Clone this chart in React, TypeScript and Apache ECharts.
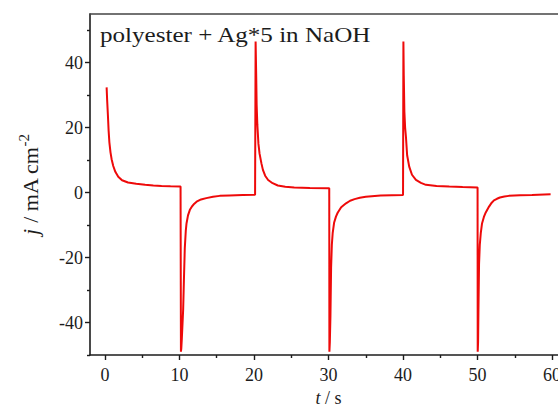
import { useEffect, useRef } from 'react';
import * as echarts from 'echarts';

// Chronoamperometric pulses: [t (s), j (mA cm-2)]
const anodic1: [number, number][] = [
  [0.23, 32.4], [0.3, 28.5], [0.4, 24], [0.5, 19], [0.6, 15.5], [0.75, 12.4], [0.9, 10.3],
  [1.12, 8.2], [1.4, 6.4], [1.79, 4.9], [2.3, 3.8], [3.1, 3.1], [4.2, 2.7], [5.4, 2.4],
  [6.5, 2.2], [7.6, 2.06], [8.8, 1.95], [10.15, 1.85],
];
const cathodic1: [number, number][] = [
  [10.2, -49], [10.25, -48], [10.32, -45], [10.42, -40], [10.5, -36], [10.6, -27],
  [10.72, -17], [10.85, -11.8], [10.95, -9.5], [11.15, -7.0], [11.4, -5.3], [11.7, -4.2],
  [12.0, -3.4], [12.3, -2.8], [12.9, -2.1], [13.6, -1.7], [14.5, -1.3], [15.4, -1.0],
  [16.7, -0.85], [18.5, -0.75], [20.15, -0.65],
];
const anodic2: [number, number][] = [
  [20.22, 46.5], [20.3, 36], [20.36, 27], [20.45, 21], [20.6, 15], [20.75, 12], [21.0, 9],
  [21.2, 7.0], [21.5, 5.2], [21.9, 3.9], [22.5, 2.9], [23.2, 2.2], [24.2, 1.8], [25.4, 1.55],
  [27.5, 1.45], [30.1, 1.35],
];
const cathodic2: [number, number][] = [
  [30.12, -49], [30.18, -46], [30.26, -38], [30.35, -23], [30.45, -16], [30.56, -12.5],
  [30.75, -9.3], [31.0, -7.4], [31.23, -6.2], [31.7, -4.5], [32.35, -3.3], [32.9, -2.5],
  [33.5, -2.0], [34.2, -1.6], [35, -1.3], [37, -0.9], [40.0, -0.7],
];
const anodic3: [number, number][] = [
  [40.05, 46.5], [40.1, 36], [40.18, 25], [40.28, 20], [40.39, 17.2], [40.55, 11.5],
  [40.83, 8], [41.2, 5.5], [41.73, 3.9], [42.4, 3.0], [43.07, 2.4], [44.5, 2.05],
  [46.2, 1.85], [48, 1.7], [50.0, 1.55],
];
const cathodic3: [number, number][] = [
  [50.02, -49], [50.07, -46], [50.12, -36], [50.2, -22], [50.3, -16], [50.43, -12.5],
  [50.6, -9.5], [50.85, -7.5], [51.1, -6.1], [51.54, -4.3], [51.9, -3.1], [52.2, -2.4],
  [52.6, -1.9], [53.0, -1.5], [53.6, -1.2], [54.2, -1.0], [55.7, -0.8], [57.3, -0.7],
  [59.8, -0.5],
];

const xMajorTicks = [0, 10, 20, 30, 40, 50, 60];
const xMinorTicks = [5, 15, 25, 35, 45, 55];
const yMajorTicks = [-40, -20, 0, 20, 40];
const yMinorTicks = [-50, -30, -10, 10, 30, 50];
const titleText = 'polyester + Ag*5 in NaOH';

const FONT = 'Liberation Serif';
const INK = '#1c1c1c';

export default function App() {
  const ref = useRef<HTMLDivElement>(null);
  useEffect(() => {
    if (!ref.current) return;
    const chart = echarts.init(ref.current, null, { renderer: 'svg' });
    const data = [...anodic1, ...cathodic1, ...anodic2, ...cathodic2, ...anodic3, ...cathodic3];
    const axisLine = { show: true, onZero: false, lineStyle: { color: INK, width: 1.6 } };
    chart.setOption({
      animation: false,
      backgroundColor: '#ffffff',
      grid: { left: 90, top: 14, bottom: 52, right: 13, containLabel: false, outerBoundsMode: 'none' },
      graphic: [
        {
          type: 'text',
          x: 100,
          y: 35,
          scaleX: 1.14,
          style: {
            text: titleText,
            fontFamily: FONT,
            fontSize: 22,
            fill: INK,
            align: 'left',
            verticalAlign: 'middle',
          },
        },
      ],
      xAxis: [
        {
          type: 'value',
          min: -2,
          max: 62,
          position: 'bottom',
          axisLine,
          splitLine: { show: false },
          axisTick: { show: true, inside: false, length: 5, customValues: xMajorTicks, lineStyle: { color: INK, width: 1.4 } },
          axisLabel: { customValues: xMajorTicks, fontFamily: FONT, fontSize: 18, color: INK, margin: 11 },
          name: '{i|t} / s',
          nameLocation: 'middle',
          nameGap: 30,
          nameTextStyle: {
            fontFamily: FONT,
            fontSize: 18,
            color: INK,
            rich: { i: { fontFamily: FONT, fontSize: 18, fontStyle: 'italic', color: INK } },
          },
        },
        {
          type: 'value',
          min: -2,
          max: 62,
          position: 'bottom',
          axisLine: { show: false, onZero: false },
          splitLine: { show: false },
          axisTick: { show: true, length: 3, customValues: xMinorTicks, lineStyle: { color: INK, width: 1.4 } },
          axisLabel: { show: false },
        },
        {
          type: 'value',
          min: -2,
          max: 62,
          position: 'top',
          axisLine: { show: true, onZero: false, lineStyle: { color: '#444', width: 1.6 } },
          splitLine: { show: false },
          axisTick: { show: false },
          axisLabel: { show: false },
        },
      ],
      yAxis: [
        {
          type: 'value',
          min: -50,
          max: 55,
          position: 'left',
          axisLine,
          splitLine: { show: false },
          axisTick: { show: true, length: 5, customValues: yMajorTicks, lineStyle: { color: INK, width: 1.4 } },
          axisLabel: { customValues: yMajorTicks, fontFamily: FONT, fontSize: 18, color: INK, margin: 7 },
          name: '{i|j} / mA cm{s|-2}',
          nameLocation: 'middle',
          nameGap: 46,
          nameTextStyle: {
            fontFamily: FONT,
            fontSize: 22,
            color: INK,
            lineHeight: 28,
            rich: {
              i: { fontFamily: FONT, fontSize: 22, fontStyle: 'italic', color: INK, lineHeight: 28 },
              s: { fontFamily: FONT, fontSize: 15, color: INK, lineHeight: 15, verticalAlign: 'top' },
            },
          },
        },
        {
          type: 'value',
          min: -50,
          max: 55,
          position: 'left',
          axisLine: { show: false, onZero: false },
          splitLine: { show: false },
          axisTick: { show: true, length: 3, customValues: yMinorTicks, lineStyle: { color: INK, width: 1.4 } },
          axisLabel: { show: false },
        },
      ],
      series: [
        {
          type: 'line',
          data,
          showSymbol: false,
          symbol: 'none',
          smooth: false,
          clip: true,
          lineStyle: { color: '#ee0a0a', width: 2 },
          xAxisIndex: 0,
          yAxisIndex: 0,
        },
      ],
    });
    return () => chart.dispose();
  }, []);
  return (
    <div style={{ position: 'absolute', left: 0, top: 0, width: 558, height: 407, overflow: 'hidden', background: '#fff' }}>
      <div ref={ref} style={{ width: 580, height: 407 }} />
    </div>
  );
}
